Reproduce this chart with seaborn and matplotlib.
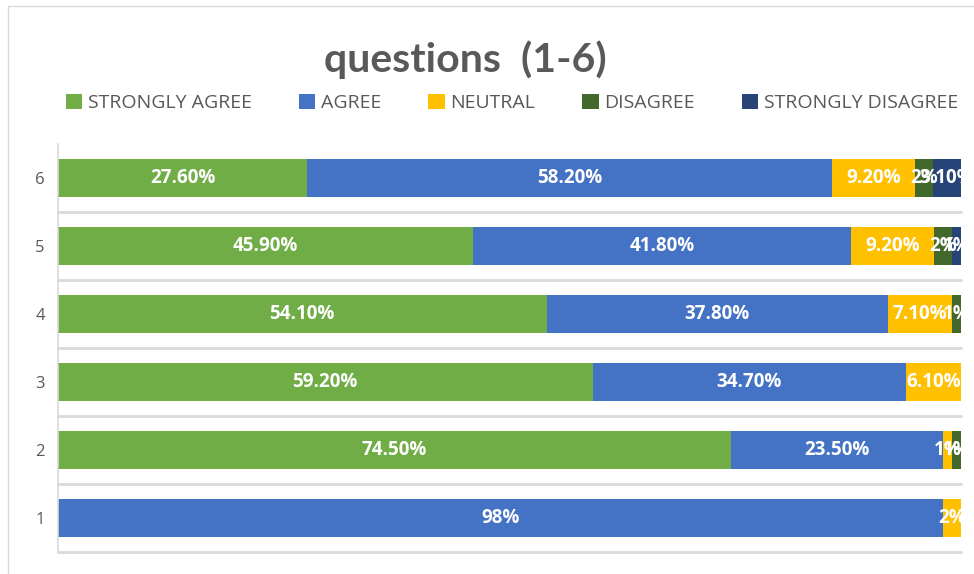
import matplotlib
matplotlib.use("Agg")
import matplotlib.pyplot as plt
import seaborn as sns
import pandas as pd
import numpy as np
from matplotlib.patches import Rectangle, Patch

questions = ["6", "5", "4", "3", "2", "1"]
series = ["STRONGLY AGREE", "AGREE", "NEUTRAL", "DISAGREE", "STRONGLY DISAGREE"]
strongly_agree = [27.6, 45.9, 54.1, 59.2, 74.5, 0]
agree = [58.2, 41.8, 37.8, 34.7, 23.5, 98]
neutral = [9.2, 9.2, 7.1, 6.1, 1, 2]
disagree = [2, 2, 1, 0, 1, 0]
strongly_disagree = [3.1, 1, 0, 0, 0, 0]
colors = ["#70AD47", "#4472C4", "#FFC000", "#43682B", "#264478"]

sns.set_theme(style="white")
plt.rcParams["font.family"] = ["Open Sans", "DejaVu Sans"]

vals = np.array([strongly_agree, agree, neutral, disagree, strongly_disagree])
totals = vals.sum(axis=0)
pct = vals / totals * 100
cum = np.cumsum(pct, axis=0)

fig = plt.figure(figsize=(9.74, 5.74), dpi=100)
ax = fig.add_axes([58 / 974, 1 - 552 / 574, (961 - 58) / 974, (552 - 144) / 574])

for i in range(len(series) - 1, -1, -1):
    df = pd.DataFrame({"q": questions, "v": cum[i]})
    sns.barplot(data=df, x="v", y="q", order=questions, color=colors[i],
                orient="h", width=0.56, ax=ax, saturation=1, linewidth=0)

ax.set_xlim(0, 100)
ax.set_ylim(5.5, -0.5)
ax.set_xlabel("")
ax.set_ylabel("")
ax.set_xticks([])
for s in ["top", "right", "bottom"]:
    ax.spines[s].set_visible(False)
ax.spines["left"].set_color("#D9D9D9")
ax.spines["left"].set_linewidth(1.2)
ax.tick_params(axis="y", length=0, pad=9.5, labelsize=12, labelcolor="#595959")

for k in range(len(questions)):
    ax.axhline(k + 0.5, color="#D9D9D9", lw=2, zorder=0, clip_on=False)

def fmt(v):
    if abs(v - round(v)) < 1e-9:
        return "%d%%" % round(v)
    return "%.2f%%" % v

for i in range(len(series)):
    for j in range(len(questions)):
        v = vals[i, j]
        if v <= 0:
            continue
        left = cum[i, j] - pct[i, j]
        ax.text(left + pct[i, j] / 2, j, fmt(v), ha="center", va="center",
                color="white", fontsize=13.5, fontweight="bold", clip_on=True)

fig.text(465 / 974, 1 - 60 / 574, "questions  (1-6)", ha="center", va="center",
         fontsize=29.5, fontweight="bold", color="#595959",
         family=["Lato", "DejaVu Sans"])

handles = [Patch(facecolor=c, edgecolor="none") for c in colors]
leg = fig.legend(handles, series, loc="center", bbox_to_anchor=(512 / 974, 1 - 103 / 574),
                 ncol=5, frameon=False, fontsize=14, handlelength=0.85, handleheight=0.85,
                 handletextpad=0.3, columnspacing=2.4)
for t in leg.get_texts():
    t.set_color("#595959")

fig.patches.append(Rectangle((8 / 974, -0.1), 1.2, 1 - 6 / 574 + 0.1, transform=fig.transFigure,
                             fill=False, edgecolor="#D9D9D9", lw=1))

fig.savefig("out.png", dpi=100)
